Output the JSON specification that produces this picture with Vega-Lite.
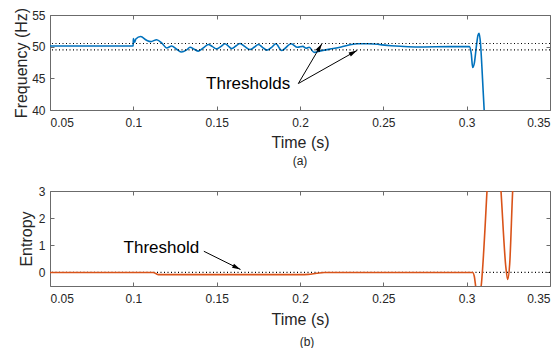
{
  "$schema": "https://vega.github.io/schema/vega-lite/v6.json",
  "padding": {"top": 7, "left": 13, "right": 0, "bottom": 0},
  "spacing": 18,
  "config": {
    "font": "Liberation Sans",
    "view": {"stroke": null},
    "axis": {
      "labelFont": "Liberation Sans", "labelFontSize": 12, "labelColor": "#262626",
      "titleFont": "Liberation Sans", "titleFontSize": 16, "titleFontWeight": "normal", "titleColor": "#262626",
      "domainColor": "#6b6b6b", "tickColor": "#6b6b6b", "tickSize": -4, "grid": false
    },
    "axisX": {"labelPadding": 11},
    "axisY": {"labelPadding": 9},
    "title": {"font": "Liberation Sans", "fontSize": 12, "fontWeight": "normal", "color": "#262626"}
  },
  "datasets": {
    "freq": [
      {"t": 0.05, "f": 50.1}, {"t": 0.0999, "f": 50.1}, {"t": 0.1, "f": 51.3}, {"t": 0.1008, "f": 50.7},
      {"t": 0.1015, "f": 51.2}, {"t": 0.1044, "f": 51.6}, {"t": 0.108, "f": 51.0}, {"t": 0.1105, "f": 50.8},
      {"t": 0.114, "f": 51.1}, {"t": 0.117, "f": 50.6}, {"t": 0.12, "f": 49.8}, {"t": 0.123, "f": 50.1},
      {"t": 0.126, "f": 49.6}, {"t": 0.129, "f": 49.15}, {"t": 0.132, "f": 49.5}, {"t": 0.134, "f": 49.9},
      {"t": 0.1365, "f": 49.6}, {"t": 0.139, "f": 49.3}, {"t": 0.142, "f": 49.8}, {"t": 0.145, "f": 50.35},
      {"t": 0.1475, "f": 50.0}, {"t": 0.15, "f": 49.65}, {"t": 0.1525, "f": 50.0}, {"t": 0.155, "f": 50.45},
      {"t": 0.157, "f": 50.1}, {"t": 0.159, "f": 49.7}, {"t": 0.1615, "f": 50.1}, {"t": 0.164, "f": 50.5},
      {"t": 0.167, "f": 50.0}, {"t": 0.17, "f": 49.55}, {"t": 0.1725, "f": 49.9}, {"t": 0.175, "f": 50.35},
      {"t": 0.1775, "f": 49.9}, {"t": 0.18, "f": 49.45}, {"t": 0.183, "f": 49.9}, {"t": 0.1855, "f": 50.45},
      {"t": 0.189, "f": 49.4}, {"t": 0.1947, "f": 50.45}, {"t": 0.1985, "f": 49.9}, {"t": 0.2017, "f": 50.05},
      {"t": 0.2037, "f": 49.75}, {"t": 0.2055, "f": 49.9}, {"t": 0.2085, "f": 49.1}, {"t": 0.2115, "f": 49.3},
      {"t": 0.2145, "f": 49.45}, {"t": 0.22, "f": 49.7}, {"t": 0.2247, "f": 49.95}, {"t": 0.23, "f": 50.3},
      {"t": 0.2347, "f": 50.45}, {"t": 0.2407, "f": 50.45}, {"t": 0.2546, "f": 50.15}, {"t": 0.2726, "f": 49.95},
      {"t": 0.29, "f": 50.0}, {"t": 0.3016, "f": 50.0}, {"t": 0.3028, "f": 48.8}, {"t": 0.3036, "f": 46.7},
      {"t": 0.3046, "f": 47.4}, {"t": 0.3058, "f": 50.0}, {"t": 0.3068, "f": 51.8}, {"t": 0.3075, "f": 52.1},
      {"t": 0.3083, "f": 50.5}, {"t": 0.3095, "f": 45.0}, {"t": 0.3105, "f": 40.0}, {"t": 0.312, "f": 35.0}
    ],
    "ent": [
      {"t": 0.05, "e": 0.0}, {"t": 0.112, "e": 0.0}, {"t": 0.1135, "e": -0.04}, {"t": 0.115, "e": -0.08},
      {"t": 0.2, "e": -0.08}, {"t": 0.205, "e": -0.07}, {"t": 0.21, "e": -0.03}, {"t": 0.2145, "e": 0.0},
      {"t": 0.3036, "e": 0.0}, {"t": 0.3046, "e": -0.15}, {"t": 0.3056, "e": -0.6}, {"t": 0.307, "e": -1.0},
      {"t": 0.3087, "e": -0.5}, {"t": 0.3122, "e": 3.0}, {"t": 0.3135, "e": 4.5}, {"t": 0.318, "e": 5.5},
      {"t": 0.3206, "e": 3.0}, {"t": 0.3235, "e": 0.2}, {"t": 0.3246, "e": -0.26}, {"t": 0.3258, "e": 0.3},
      {"t": 0.3276, "e": 3.0}, {"t": 0.329, "e": 4.5}
    ],
    "fthr": [{"v": 50.5}, {"v": 49.5}],
    "ethr": [{"v": 0}],
    "farrows": [
      {"id": 1, "t0": 0.199, "f0": 44.18, "t1": 0.2131, "f1": 50.45},
      {"id": 2, "t0": 0.199, "f0": 44.18, "t1": 0.2342, "f1": 49.4}
    ],
    "earrows": [{"id": 1, "t0": 0.1423, "e0": 0.78, "t1": 0.1643, "e1": 0.11}],
    "flabel": [{"t": 0.1689, "f": 44.07, "text": "Thresholds"}],
    "elabel": [{"t": 0.1168, "e": 0.91, "text": "Threshold"}]
  },
  "vconcat": [
    {
      "width": 500, "height": 95,
      "title": {"text": "(a)", "orient": "bottom", "offset": 6},
      "resolve": {"axis": {"x": "independent", "y": "independent"}},
      "layer": [
        {
          "data": {"name": "freq"},
          "mark": {"type": "line", "color": "#0072BD", "strokeWidth": 1.6, "clip": true, "interpolate": "monotone"},
          "encoding": {
            "x": {"field": "t", "type": "quantitative", "scale": {"domain": [0.05, 0.35], "nice": false},
                  "axis": {"values": [0.05, 0.1, 0.15, 0.2, 0.25, 0.3, 0.35], "format": "~g", "title": "Time (s)", "titlePadding": 6}},
            "y": {"field": "f", "type": "quantitative", "scale": {"domain": [40, 55], "nice": false, "zero": false},
                  "axis": {"values": [40, 45, 50, 55], "title": "Frequency (Hz)", "titlePadding": 2}}
          }
        },
        {
          "data": {"name": "fthr"},
          "mark": {"type": "rule", "color": "#000", "strokeWidth": 1.2, "strokeDash": [1, 2.5]},
          "encoding": {
            "y": {"field": "v", "type": "quantitative",
                  "axis": {"orient": "right", "values": [40, 45, 50, 55], "labels": false, "title": null}}
          }
        },
        {
          "data": {"name": "farrows"},
          "mark": {"type": "rule", "color": "#000", "strokeWidth": 1},
          "encoding": {
            "x": {"field": "t0", "type": "quantitative",
                  "axis": {"orient": "top", "values": [0.05, 0.1, 0.15, 0.2, 0.25, 0.3, 0.35], "labels": false, "title": null}},
            "y": {"field": "f0", "type": "quantitative", "axis": null},
            "x2": {"field": "t1"},
            "y2": {"field": "f1"}
          }
        },
        {
          "data": {"name": "farrows"},
          "transform": [{"filter": "datum.id == 1"}],
          "mark": {"type": "point", "shape": "M0,0 L-0.55,2 L0.55,2 Z", "filled": true, "color": "#000", "opacity": 1, "size": 70, "angle": 30.6},
          "encoding": {
            "x": {"field": "t1", "type": "quantitative", "axis": null},
            "y": {"field": "f1", "type": "quantitative", "axis": null}
          }
        },
        {
          "data": {"name": "farrows"},
          "transform": [{"filter": "datum.id == 2"}],
          "mark": {"type": "point", "shape": "M0,0 L-0.55,2 L0.55,2 Z", "filled": true, "color": "#000", "opacity": 1, "size": 70, "angle": 60.7},
          "encoding": {
            "x": {"field": "t1", "type": "quantitative", "axis": null},
            "y": {"field": "f1", "type": "quantitative", "axis": null}
          }
        },
        {
          "data": {"name": "flabel"},
          "mark": {"type": "text", "fontSize": 17, "font": "Liberation Sans", "color": "#000"},
          "encoding": {
            "x": {"field": "t", "type": "quantitative", "axis": null},
            "y": {"field": "f", "type": "quantitative", "axis": null},
            "text": {"field": "text"}
          }
        }
      ]
    },
    {
      "width": 500, "height": 95,
      "title": {"text": "(b)", "orient": "bottom", "offset": 10, "dx": 7},
      "resolve": {"axis": {"x": "independent", "y": "independent"}},
      "layer": [
        {
          "data": {"name": "ethr"},
          "mark": {"type": "rule", "color": "#000", "strokeWidth": 1.2, "strokeDash": [1, 2.5]},
          "encoding": {
            "y": {"field": "v", "type": "quantitative",
                  "axis": {"orient": "right", "values": [0, 1, 2, 3], "labels": false, "title": null}}
          }
        },
        {
          "data": {"name": "ent"},
          "mark": {"type": "line", "color": "#D95319", "strokeWidth": 1.6, "clip": true, "interpolate": "monotone"},
          "encoding": {
            "x": {"field": "t", "type": "quantitative", "scale": {"domain": [0.05, 0.35], "nice": false},
                  "axis": {"values": [0.05, 0.1, 0.15, 0.2, 0.25, 0.3, 0.35], "format": "~g", "title": "Time (s)", "titlePadding": 7}},
            "y": {"field": "e", "type": "quantitative", "scale": {"domain": [-0.5, 3], "nice": false, "zero": false},
                  "axis": {"values": [0, 1, 2, 3], "title": "Entropy", "titlePadding": 4}}
          }
        },
        {
          "data": {"name": "earrows"},
          "mark": {"type": "rule", "color": "#000", "strokeWidth": 1},
          "encoding": {
            "x": {"field": "t0", "type": "quantitative",
                  "axis": {"orient": "top", "values": [0.05, 0.1, 0.15, 0.2, 0.25, 0.3, 0.35], "labels": false, "title": null}},
            "y": {"field": "e0", "type": "quantitative", "axis": null},
            "x2": {"field": "t1"},
            "y2": {"field": "e1"}
          }
        },
        {
          "data": {"name": "earrows"},
          "mark": {"type": "point", "shape": "M0,0 L-0.55,2 L0.55,2 Z", "filled": true, "color": "#000", "opacity": 1, "size": 70, "angle": 116.2},
          "encoding": {
            "x": {"field": "t1", "type": "quantitative", "axis": null},
            "y": {"field": "e1", "type": "quantitative", "axis": null}
          }
        },
        {
          "data": {"name": "elabel"},
          "mark": {"type": "text", "fontSize": 17, "font": "Liberation Sans", "color": "#000"},
          "encoding": {
            "x": {"field": "t", "type": "quantitative", "axis": null},
            "y": {"field": "e", "type": "quantitative", "axis": null},
            "text": {"field": "text"}
          }
        }
      ]
    }
  ]
}
